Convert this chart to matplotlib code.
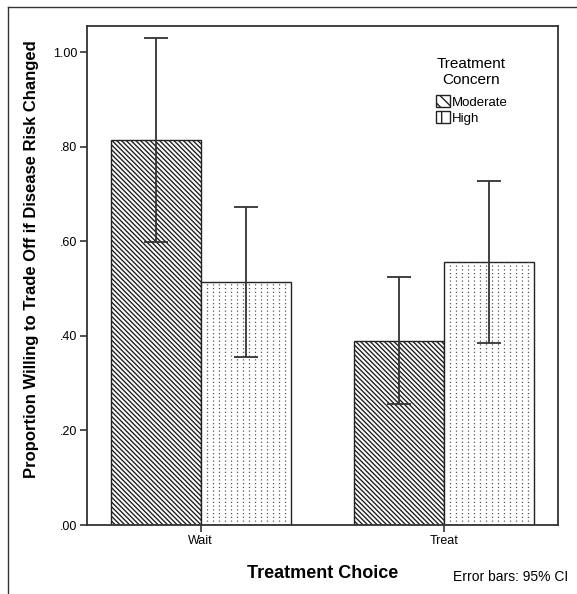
import matplotlib.pyplot as plt
from matplotlib.patches import Patch
from matplotlib.lines import Line2D
import numpy as np

plt.rcParams['font.family'] = ['Liberation Sans', 'DejaVu Sans']
plt.rcParams['hatch.linewidth'] = 1.0

# data
choices = ['Wait', 'Treat']
concerns = ['Moderate', 'High']
means = {'Moderate': [0.814, 0.390], 'High': [0.514, 0.556]}
ci_low = {'Moderate': [0.598, 0.255], 'High': [0.355, 0.385]}
ci_high = {'Moderate': [1.029, 0.524], 'High': [0.673, 0.727]}
yticks = [0.0, 0.2, 0.4, 0.6, 0.8, 1.0]

W, H = 577, 594
fig = plt.figure(figsize=(W / 100, H / 100), dpi=100)
ax = fig.add_axes([87 / W, 1 - 525 / H, (558 - 87) / W, (525 - 26) / H])

# outer frame (only top and left edges are visible in the original)
fig.add_artist(Line2D([8 / W, 8 / W], [1 - 7 / H, 0], transform=fig.transFigure, color='#333333', lw=1.0))
fig.add_artist(Line2D([8 / W, 1], [1 - 7 / H, 1 - 7 / H], transform=fig.transFigure, color='#333333', lw=1.0))

x = np.arange(len(choices))
bw = 0.37
offsets = {'Moderate': -bw / 2, 'High': bw / 2}
diag = '\\' * 7

for c in concerns:
    xs = x + offsets[c]
    if c == 'Moderate':
        bars = ax.bar(xs, means[c], bw, facecolor='white', edgecolor='#222222',
                      hatch=diag, linewidth=1.0, zorder=2)
    else:
        bars = ax.bar(xs, means[c], bw, facecolor='white', edgecolor='#222222',
                      linewidth=1.0, zorder=2)
        # dotted vertical fill like the SPSS pattern
        for b in bars:
            x0, x1 = b.get_x(), b.get_x() + b.get_width()
            cols = np.linspace(x0, x1, 16)[1:-1]
            ax.vlines(cols, 0, b.get_height(), colors='#555555', linewidth=0.9,
                      linestyles=(0, (1, 2)), zorder=2.5)
    err = [np.array(means[c]) - np.array(ci_low[c]), np.array(ci_high[c]) - np.array(means[c])]
    ax.errorbar(xs, means[c], yerr=err, fmt='none', ecolor='#333333', elinewidth=1.3,
                capsize=8.3, capthick=1.3, zorder=3)

ax.set_xlim(-0.467, 1.469)
ax.set_ylim(0, 1.055)
ax.set_xticks(x)
ax.set_xticklabels(choices, fontsize=9)
ax.set_yticks(yticks)
ax.set_yticklabels(['.00' if v == 0 else ('1.00' if v == 1 else ('%.2f' % v)[1:]) for v in yticks], fontsize=9)
ax.tick_params(axis='both', direction='out', length=5, width=1.2, color='#333333', pad=2)
for s in ax.spines.values():
    s.set_color('#333333')
    s.set_linewidth(1.3)

ax.set_ylabel('Proportion Willing to Trade Off if Disease Risk Changed', fontsize=12,
              fontweight='bold')
ax.yaxis.set_label_coords(-0.101, 0.532)
ax.set_xlabel('Treatment Choice', fontsize=13, fontweight='bold', labelpad=13)
fig.text(568 / W, 1 - 577 / H, 'Error bars: 95% CI', fontsize=10, ha='right', va='center')

handles = [Patch(facecolor='white', edgecolor='#222222', hatch='\\\\\\', lw=1.0),
           Patch(facecolor='white', edgecolor='#222222', hatch='|', lw=1.0)]
leg = ax.legend(handles, concerns, title='Treatment\nConcern', loc='upper center',
                bbox_to_anchor=((472 - 87) / 471, (525 - 50) / 499), frameon=False,
                fontsize=9.5, title_fontsize=11, handlelength=1.0, handleheight=1.0,
                handletextpad=0.15, labelspacing=0.22, borderpad=0)
leg._legend_box.align = 'left'
leg._legend_box.sep = 6
leg.get_title().set_multialignment('center')

fig.savefig('out.png', dpi=100)
